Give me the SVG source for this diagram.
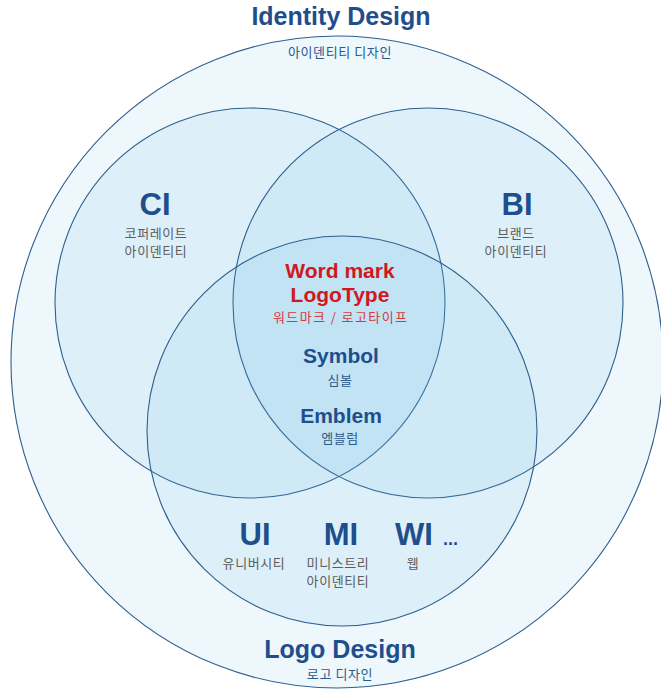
<svg xmlns="http://www.w3.org/2000/svg" width="661" height="691" viewBox="0 0 661 691">
<style>
.ring{fill:#6ebee6;fill-opacity:0.12;stroke:#2f5f8f;stroke-width:1.1}
.big{font-family:"Liberation Sans",Arial,sans-serif;font-weight:bold;fill:#1f4e8c;text-anchor:middle}
.red{font-family:"Liberation Sans",Arial,sans-serif;font-weight:bold;fill:#d0181e;text-anchor:middle}
.ko{font-family:"Noto Sans CJK KR",sans-serif;font-size:13px;letter-spacing:0.6px;fill:#5c5c5c;text-anchor:middle}
.kob{font-family:"Noto Sans CJK KR",sans-serif;font-size:13px;letter-spacing:0.6px;fill:#2a5a8a;text-anchor:middle}
.kor{font-family:"Noto Sans CJK KR",sans-serif;font-size:13px;fill:#d63a3a;text-anchor:middle}
</style>
<rect width="661" height="691" fill="#ffffff"/>
<g id="identity-design">
<circle class="ring" cx="337" cy="362" r="326"/>
<text class="big" x="341" y="25" font-size="25">Identity Design</text>
<text class="kob" x="340" y="57" font-size="14">아이덴티티 디자인</text>
</g>
<g id="ci">
<circle class="ring" cx="250" cy="303" r="195"/>
<text class="big" x="155" y="215" font-size="31">CI</text>
<text class="ko" x="156" y="238">코퍼레이트</text>
<text class="ko" x="156" y="256">아이덴티티</text>
</g>
<g id="bi">
<circle class="ring" cx="428" cy="303" r="195"/>
<text class="big" x="517" y="215" font-size="31">BI</text>
<text class="ko" x="516" y="238">브랜드</text>
<text class="ko" x="516" y="256">아이덴티티</text>
</g>
<g id="logo-design">
<circle class="ring" cx="342" cy="431" r="195"/>
<text class="big" x="340" y="658" font-size="25">Logo Design</text>
<text class="kob" x="340" y="679">로고 디자인</text>
</g>
<g id="wordmark">
<text class="red" x="340" y="278" font-size="21">Word mark</text>
<text class="red" x="340" y="302" font-size="21">LogoType</text>
<text class="kor" x="340" y="322" textLength="134" lengthAdjust="spacing">워드마크 / 로고타이프</text>
</g>
<g id="symbol">
<text class="big" x="341" y="363" font-size="21">Symbol</text>
<text class="kob" x="340" y="385">심볼</text>
</g>
<g id="emblem">
<text class="big" x="341" y="423" font-size="21">Emblem</text>
<text class="kob" x="340" y="443">엠블럼</text>
</g>
<g id="ui">
<text class="big" x="255" y="545" font-size="31">UI</text>
<text class="ko" x="254" y="568">유니버시티</text>
</g>
<g id="mi">
<text class="big" x="341" y="545" font-size="31">MI</text>
<text class="ko" x="338" y="568">미니스트리</text>
<text class="ko" x="338" y="586">아이덴티티</text>
</g>
<g id="wi">
<text class="big" x="414" y="545" font-size="31">WI</text>
<text x="443" y="545" font-family="Liberation Sans,Arial,sans-serif" font-weight="bold" font-size="18" fill="#1f4e8c">...</text>
<text class="ko" x="413" y="568">웹</text>
</g>
<g id="connectors"/>
</svg>
